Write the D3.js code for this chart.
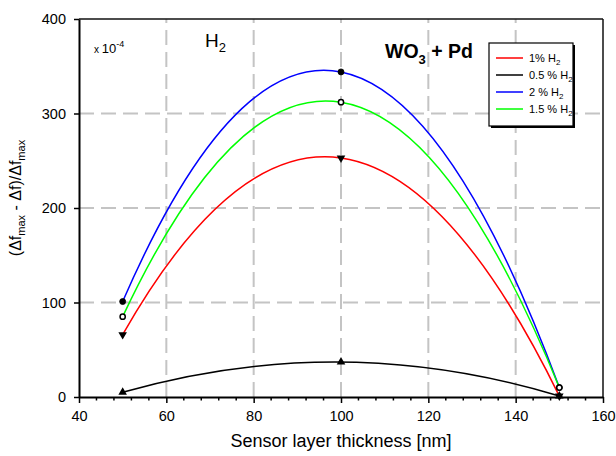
<!DOCTYPE html>
<html><head><meta charset="utf-8">
<script src="https://cdn.jsdelivr.net/npm/d3@7"></script>
<style>body{margin:0;background:#fff} text{font-family:"Liberation Sans",Arial,sans-serif;fill:#000}</style>
</head><body><svg id="c" width="616" height="456"></svg>
<script>
// ---- data ----
const thickness = [50, 100, 150];
const h2_1pct   = [66, 253, 1];
const h2_05pct  = [5, 37, 1];
const h2_2pct   = [101, 344, 10];
const h2_15pct  = [85, 312, 10];
const seriesLabels = ["1% H", "0.5 % H", "2 % H", "1.5 % H"];
const xTicks = [40, 60, 80, 100, 120, 140, 160];
const yTicks = [0, 100, 200, 300, 400];
const xGrid = [60, 80, 100, 120, 140];
const yGrid = [100, 200, 300];

const series = [
  {name: seriesLabels[0], values: h2_1pct,  color: "#ff0000", marker: "down"},
  {name: seriesLabels[1], values: h2_05pct, color: "#000000", marker: "up"},
  {name: seriesLabels[2], values: h2_2pct,  color: "#0000ff", marker: "dot"},
  {name: seriesLabels[3], values: h2_15pct, color: "#00ff00", marker: "ring"}
];

const svg = d3.select("#c");
const x = d3.scaleLinear().domain([40, 160]).range([79, 603]);
const y = d3.scaleLinear().domain([0, 400]).range([397, 19]);

// grid
svg.append("g").selectAll("line").data(xGrid).join("line")
  .attr("x1", d => x(d)).attr("x2", d => x(d)).attr("y1", y(0)).attr("y2", y(400))
  .attr("stroke", "#c4c4c4").attr("stroke-width", 2).attr("stroke-dasharray", "15,7");
svg.append("g").selectAll("line").data(yGrid).join("line")
  .attr("y1", d => y(d)).attr("y2", d => y(d)).attr("x1", x(40)).attr("x2", x(160))
  .attr("stroke", "#c4c4c4").attr("stroke-width", 2).attr("stroke-dasharray", "15,7");

// frame top/right
svg.append("line").attr("x1", x(40)).attr("x2", x(160)).attr("y1", y(400)).attr("y2", y(400))
  .attr("stroke", "#111").attr("stroke-width", 1.5);
svg.append("line").attr("x1", x(160)).attr("x2", x(160)).attr("y1", y(0)).attr("y2", y(400))
  .attr("stroke", "#111").attr("stroke-width", 1.5);

// minor x ticks
const minor = d3.range(40, 161, 4).filter(v => !xTicks.includes(v));
svg.append("g").selectAll("line").data(minor).join("line")
  .attr("x1", d => x(d)).attr("x2", d => x(d)).attr("y1", y(0)).attr("y2", y(0) + 3.5)
  .attr("stroke", "#000").attr("stroke-width", 1.5);

// axes
const gx = svg.append("g").attr("transform", `translate(0,${y(0)})`)
  .call(d3.axisBottom(x).tickValues(xTicks).tickSize(6).tickSizeOuter(0).tickPadding(8));
const gy = svg.append("g").attr("transform", `translate(${x(40)},0)`)
  .call(d3.axisLeft(y).tickValues(yTicks).tickSize(5).tickSizeOuter(0).tickPadding(8));
[gx, gy].forEach(g => {
  g.select(".domain").attr("stroke", "#000").attr("stroke-width", 2);
  g.selectAll(".tick line").attr("stroke", "#000").attr("stroke-width", 1.5);
  g.selectAll(".tick text").attr("font-size", 14.5).attr("font-family", "Liberation Sans, Arial, sans-serif").attr("fill", "#000");
});

// curves: parabola through the three measured points (quadratic Bezier)
series.forEach(s => {
  const p = thickness.map((t, i) => [x(t), y(s.values[i])]);
  const path = d3.path();
  path.moveTo(p[0][0], p[0][1]);
  path.quadraticCurveTo(2 * p[1][0] - (p[0][0] + p[2][0]) / 2,
                        2 * p[1][1] - (p[0][1] + p[2][1]) / 2,
                        p[2][0], p[2][1]);
  svg.append("path").attr("d", path.toString()).attr("fill", "none")
    .attr("stroke", s.color).attr("stroke-width", 1.5);
});

// markers
series.forEach(s => {
  const g = svg.append("g");
  thickness.forEach((t, i) => {
    const cx = x(t), cy = y(s.values[i]);
    if (s.marker === "up" || s.marker === "down") {
      g.append("path").attr("d", d3.symbol(d3.symbolTriangle, 32)())
        .attr("transform", `translate(${cx},${cy})` + (s.marker === "down" ? " rotate(180)" : ""))
        .attr("fill", "#000");
    } else {
      g.append("circle").attr("cx", cx).attr("cy", cy).attr("r", s.marker === "dot" ? 3 : 2.6)
        .attr("fill", s.marker === "dot" ? "#000" : "#fff")
        .attr("stroke", "#000").attr("stroke-width", s.marker === "dot" ? 0.8 : 1.5);
    }
  });
});

// axis labels
svg.append("text").attr("x", x(100)).attr("y", 447).attr("text-anchor", "middle")
  .attr("font-size", 18).text("Sensor layer thickness [nm]");
const yl = svg.append("text").attr("transform", "translate(21,198) rotate(-90)")
  .attr("text-anchor", "middle").attr("font-size", 16);
yl.append("tspan").text("(Δf");
yl.append("tspan").attr("font-size", 11).attr("dy", 4).text("max");
yl.append("tspan").attr("dy", -4).text(" - Δf)/Δf");
yl.append("tspan").attr("font-size", 11).attr("dy", 4).text("max");

// annotations
const sc = svg.append("text").attr("x", 94).attr("y", 53);
sc.append("tspan").attr("font-size", 10).text("x ");
sc.append("tspan").attr("font-size", 13).text("10");
sc.append("tspan").attr("font-size", 9).attr("dy", -6).text("-4");

const h = svg.append("text").attr("x", 205).attr("y", 47).attr("font-size", 19);
h.append("tspan").text("H");
h.append("tspan").attr("font-size", 13).attr("dy", 5).text("2");

const wo = svg.append("text").attr("x", 385).attr("y", 58).attr("font-size", 19.5).attr("font-weight", "bold");
wo.append("tspan").text("WO");
wo.append("tspan").attr("font-size", 13).attr("dy", 6).text("3");
wo.append("tspan").attr("dy", -6).text(" + Pd");

// legend
const lg = svg.append("g");
lg.append("rect").attr("x", 491).attr("y", 45).attr("width", 84).attr("height", 83).attr("fill", "#000");
lg.append("rect").attr("x", 489).attr("y", 43).attr("width", 84).attr("height", 83)
  .attr("fill", "#fff").attr("stroke", "#000").attr("stroke-width", 1.2);
series.forEach((s, i) => {
  const ly = 58 + i * 17;
  lg.append("line").attr("x1", 496).attr("x2", 523).attr("y1", ly).attr("y2", ly)
    .attr("stroke", s.color).attr("stroke-width", 1.5);
  const t = lg.append("text").attr("x", 529).attr("y", ly + 4).attr("font-size", 11);
  t.append("tspan").text(s.name);
  t.append("tspan").attr("font-size", 8).attr("dy", 3).text("2");
});
</script></body></html>
